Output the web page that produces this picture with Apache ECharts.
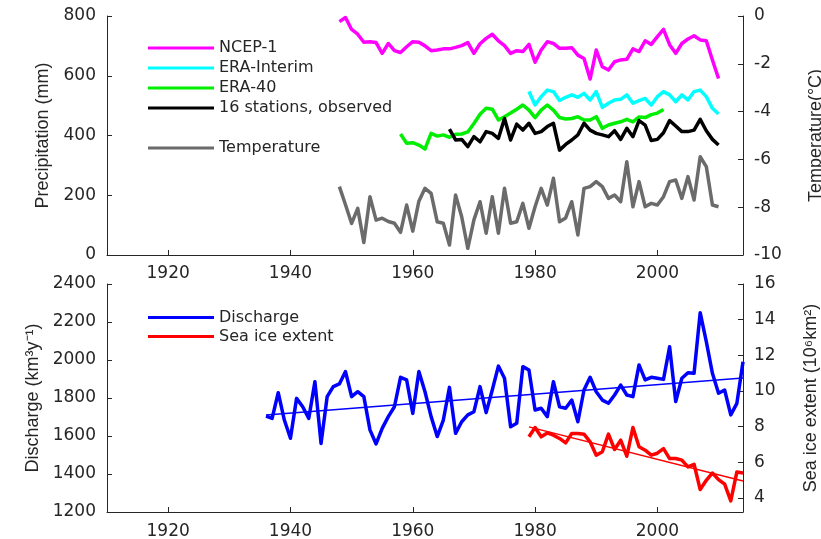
<!DOCTYPE html>
<html>
<head>
<meta charset="utf-8">
<script src="https://cdn.jsdelivr.net/npm/echarts@6/dist/echarts.min.js"></script>
<style>
html,body{margin:0;padding:0;background:#fff;}
#c{width:821px;height:539px;}
</style>
</head>
<body>
<div id="c"></div>
<script>
// ---------- data ----------
const xTicks = [1920, 1940, 1960, 1980, 2000];
const seaIceTicks = [4, 6, 8, 10, 12, 14, 16];

const ncepStart = 1948;
const ncep = [781,795,755,739,712,714,711,675,708,684,678,697,714,712,700,684,686,690,690,695,
  701,711,675,707,725,739,717,701,675,684,681,705,645,686,714,708,692,692,694,669,658,589,686,
  630,619,647,653,655,690,681,717,705,731,755,704,675,708,723,734,720,717,653,591];

const eraIntStart = 1979;
const eraInterim = [547,502,530,552,547,517,528,536,528,541,519,547,494,508,519,521,536,508,517,
  524,502,530,547,536,513,536,519,547,552,530,491,472];

const era40Start = 1958;
const era40 = [405,374,376,368,355,407,398,402,394,404,405,412,440,471,491,488,452,463,475,488,
  502,485,460,485,502,485,460,455,457,463,452,452,463,424,435,441,446,454,446,462,460,470,475,487];

const stationsStart = 1966;
const stations = [421,385,387,363,396,379,413,407,390,457,385,438,418,441,407,413,430,441,351,370,
  385,402,441,418,407,402,396,416,387,424,396,450,435,383,387,409,450,432,413,413,418,454,416,387,368];

const tempStart = 1948;
const temperature = [-7.14,-7.9,-8.68,-8.05,-9.48,-7.56,-8.54,-8.46,-8.6,-8.67,-9.05,-7.91,-9.0,
  -7.75,-7.21,-7.42,-8.61,-8.67,-9.58,-7.49,-8.4,-9.72,-8.53,-7.77,-9.09,-7.56,-9.09,-7.21,-8.67,
  -8.61,-7.84,-8.88,-7.98,-7.21,-7.91,-6.79,-8.61,-8.45,-7.77,-9.16,-7.21,-7.14,-6.93,-7.14,-7.63,
  -7.49,-7.77,-6.10,-7.98,-6.93,-7.98,-7.84,-7.91,-7.56,-6.93,-6.86,-7.63,-6.72,-7.70,-5.89,-6.30,
  -7.91,-7.98];

const dischargeStart = 1936;
const discharge = [1705,1693,1828,1684,1588,1798,1754,1693,1886,1561,1807,1860,1874,1939,1807,
  1833,1807,1632,1558,1640,1702,1754,1909,1895,1719,1939,1833,1702,1597,1684,1856,1614,1675,1711,
  1728,1860,1723,1842,1968,1904,1649,1667,1965,1947,1737,1746,1702,1886,1754,1746,1789,1675,1842,
  1909,1833,1789,1772,1816,1868,1816,1807,1974,1895,1909,1904,1898,2070,1781,1904,1933,1930,2249,
  2097,1930,1825,1842,1711,1772,1991];

const seaIceStart = 1979;
const seaIce = [7.42,7.94,7.42,7.64,7.51,7.33,7.08,7.61,7.61,7.57,7.14,6.39,6.58,7.57,6.71,7.23,
  6.33,7.94,6.86,6.67,6.39,6.5,6.76,6.2,6.2,6.11,5.73,5.88,4.46,4.98,5.39,5.02,4.76,3.82,5.45,5.39];

// trend lines: [year, value] end points
const dischargeTrend = [[1936, 1710], [2014, 1905]];
const seaIceTrend = [[1979, 7.98], [2014, 4.94]];

// ---------- helpers ----------
function pairs(start, vals) { return vals.map((v, i) => [start + i, v]); }

const TXT = '#262626';
const NUMFONT = 'DejaVu Sans';
const TITLEFONT = 'Liberation Sans';
const plain = v => String(v);

function xAxis(gi, margin) {
  return {
    type: 'value', gridIndex: gi, min: 1910, max: 2014,
    axisLine: { show: true, onZero: false, lineStyle: { color: TXT, width: 1 } },
    axisTick: { show: true, inside: true, length: 5, customValues: xTicks, lineStyle: { color: TXT } },
    axisLabel: { customValues: xTicks, formatter: plain, margin: margin, color: TXT, fontFamily: NUMFONT, fontSize: 17 },
    splitLine: { show: false }
  };
}
function yAxis(gi, pos, opts) {
  return Object.assign({
    type: 'value', gridIndex: gi, position: pos,
    axisLine: { show: true, onZero: false, lineStyle: { color: TXT, width: 1 } },
    axisTick: { show: true, inside: true, length: 5, lineStyle: { color: TXT } },
    axisLabel: { formatter: plain, margin: 11, color: TXT, fontFamily: NUMFONT, fontSize: 17 },
    splitLine: { show: false },
    nameLocation: 'middle', nameRotate: 90,
    nameTextStyle: { color: TXT, fontFamily: TITLEFONT, fontSize: 18 }
  }, opts);
}
function line(name, data, color, xi, yi, width) {
  return {
    name: name, type: 'line', data: data, xAxisIndex: xi, yAxisIndex: yi,
    symbol: 'none', showSymbol: false, lineStyle: { color: color, width: width || 3.5, join: 'round' },
    itemStyle: { color: color }, animation: false, silent: true
  };
}

const legendCommon = {
  orient: 'vertical', left: 143, icon: 'rect', itemWidth: 66, itemHeight: 3, itemGap: 0, selectedMode: false,
  textStyle: { color: TXT, fontFamily: NUMFONT, fontSize: 16, lineHeight: 20 }
};

const chart = echarts.init(document.getElementById('c'));
chart.setOption({
  animation: false,
  backgroundColor: '#fff',
  grid: [
    { left: 107, right: 78, top: 16, height: 239, containLabel: false, outerBoundsMode: 'none' },
    { left: 107, right: 78, top: 284, height: 228, containLabel: false, outerBoundsMode: 'none' }
  ],
  legend: [
    Object.assign({}, legendCommon, { top: 33, data: ['NCEP-1', 'ERA-Interim', 'ERA-40', '16 stations, observed'] }),
    Object.assign({}, legendCommon, { top: 133, data: ['Temperature'] }),
    Object.assign({}, legendCommon, { top: 303, textStyle: Object.assign({}, legendCommon.textStyle, { lineHeight: 19 }), data: ['Discharge', 'Sea ice extent'] })
  ],
  xAxis: [xAxis(0, 10), xAxis(1, 11)],
  yAxis: [
    yAxis(0, 'left', { min: 0, max: 800, interval: 200, name: 'Precipitation (mm)', nameGap: 55 }),
    yAxis(0, 'right', { min: -10, max: 0, interval: 2, name: 'Temperature(°C)', nameGap: 64 }),
    yAxis(1, 'left', { min: 1200, max: 2400, interval: 200, name: 'Discharge (km³y⁻¹)', nameGap: 64 }),
    yAxis(1, 'right', { min: 3.2, max: 16, name: 'Sea ice extent (10⁶km²)', nameGap: 59,
      axisTick: { show: true, inside: true, length: 5, customValues: seaIceTicks, lineStyle: { color: TXT } },
      axisLabel: { customValues: seaIceTicks, formatter: plain, margin: 11, color: TXT, fontFamily: NUMFONT, fontSize: 17 } })
  ],
  series: [
    line('Temperature', pairs(tempStart, temperature), '#6b6b6b', 0, 1),
    line('ERA-40', pairs(era40Start, era40), '#00ee00', 0, 0),
    line('16 stations, observed', pairs(stationsStart, stations), '#000000', 0, 0),
    line('ERA-Interim', pairs(eraIntStart, eraInterim), '#00ffff', 0, 0),
    line('NCEP-1', pairs(ncepStart, ncep), '#ff00ff', 0, 0),
    line('Discharge', pairs(dischargeStart, discharge), '#0000ff', 1, 2),
    line('Discharge trend', dischargeTrend, '#0000ff', 1, 2, 1.5),
    line('Sea ice extent', pairs(seaIceStart, seaIce), '#ff0000', 1, 3),
    line('Sea ice trend', seaIceTrend, '#ff0000', 1, 3, 1.5)
  ]
});
</script>
</body>
</html>
